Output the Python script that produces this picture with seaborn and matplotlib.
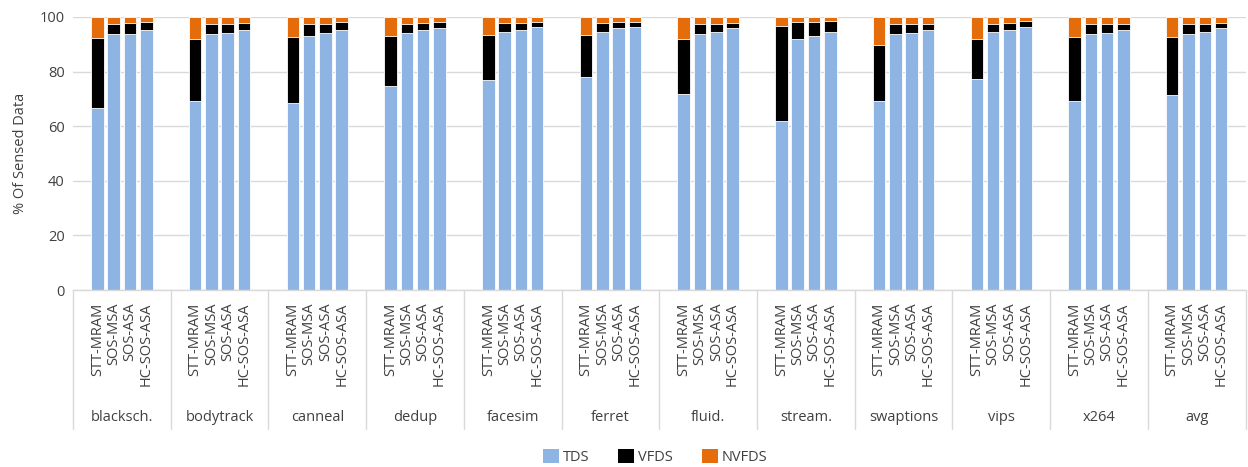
import numpy as np
import pandas as pd
import matplotlib
matplotlib.use("Agg")
import matplotlib.pyplot as plt
import matplotlib.transforms as mtransforms
from matplotlib.patches import Patch
import seaborn as sns

benchmarks = ["blacksch.", "bodytrack", "canneal", "dedup", "facesim", "ferret",
              "fluid.", "stream.", "swaptions", "vips", "x264", "avg"]
configs = ["STT-MRAM", "SOS-MSA", "SOS-ASA", "HC-SOS-ASA"]

# share of sensed data (%) per benchmark, one value per config
tds = [
    [66.5, 93.7, 93.9, 95.3],
    [69.2, 93.8, 94.2, 95.2],
    [68.5, 93.0, 94.2, 95.3],
    [74.7, 94.2, 95.2, 95.8],
    [76.9, 94.6, 95.2, 96.4],
    [77.9, 94.6, 95.8, 96.4],
    [71.7, 93.6, 94.6, 95.8],
    [61.8, 91.8, 93.0, 94.6],
    [69.2, 93.6, 94.2, 95.2],
    [77.3, 94.6, 95.2, 96.4],
    [69.2, 93.6, 94.2, 95.2],
    [71.4, 93.6, 94.6, 95.8],
]
vfds = [
    [25.9, 3.6, 3.9, 2.7],
    [22.6, 3.5, 3.1, 2.6],
    [24.0, 4.3, 3.2, 2.7],
    [18.3, 3.1, 2.6, 2.2],
    [16.6, 3.2, 2.6, 1.6],
    [15.6, 3.2, 2.2, 1.6],
    [20.1, 3.7, 2.7, 2.0],
    [35.0, 6.2, 5.0, 3.9],
    [20.5, 3.7, 3.1, 2.1],
    [14.5, 2.9, 2.6, 2.1],
    [23.3, 3.7, 3.3, 2.3],
    [21.1, 3.7, 2.9, 2.0],
]
nvfds = [
    [7.6, 2.7, 2.2, 2.0],
    [8.2, 2.7, 2.7, 2.2],
    [7.5, 2.7, 2.6, 2.0],
    [7.0, 2.7, 2.2, 2.0],
    [6.5, 2.2, 2.2, 2.0],
    [6.5, 2.2, 2.0, 2.0],
    [8.2, 2.7, 2.7, 2.2],
    [3.2, 2.0, 2.0, 1.5],
    [10.3, 2.7, 2.7, 2.7],
    [8.2, 2.5, 2.2, 1.5],
    [7.5, 2.7, 2.5, 2.5],
    [7.5, 2.7, 2.5, 2.2],
]

colors = {"TDS": "#8EB4E3", "VFDS": "#000000", "NVFDS": "#E46C0A"}
text_color = "#404040"

sns.set_theme(style="white")
plt.rcParams["font.family"] = ["Open Sans", "DejaVu Sans"]

# each benchmark occupies 6 slots; its four bars sit in the middle four
slots = 6
rows = []
for g, b in enumerate(benchmarks):
    for k, c in enumerate(configs):
        t, v, n = tds[g][k], vfds[g][k], nvfds[g][k]
        rows.append({"benchmark": b, "config": c, "pos": g * slots + 1.5 + k,
                     "tds": t, "tds_vfds": t + v, "total": t + v + n})
df = pd.DataFrame(rows)

fig = plt.figure(figsize=(12.48, 4.67), dpi=100)
ax = fig.add_axes([0.0585, 0.379, 0.9395, 0.5846])

bar_kw = dict(x="pos", native_scale=True, width=0.77, ax=ax,
              edgecolor="white", linewidth=0.6, errorbar=None)
sns.barplot(data=df, y="total", color=colors["NVFDS"], saturation=1, **bar_kw)
sns.barplot(data=df, y="tds_vfds", color=colors["VFDS"], saturation=1, **bar_kw)
sns.barplot(data=df, y="tds", color=colors["TDS"], saturation=1, **bar_kw)

ax.set_xlim(0, slots * len(benchmarks))
ax.set_ylim(0, 100)
ax.set_yticks(np.arange(0, 101, 20))
ax.yaxis.grid(True, color="#d9d9d9", linewidth=1)
ax.set_axisbelow(True)
for s in ["top", "right", "left"]:
    ax.spines[s].set_visible(False)
ax.spines["bottom"].set_color("#d9d9d9")
ax.spines["bottom"].set_linewidth(1)

ax.set_xticks(df["pos"])
ax.set_xticklabels(df["config"], rotation=90, fontsize=10.5, color=text_color,
                   va="top", ha="center")
ax.tick_params(axis="x", length=0, pad=9)
ax.tick_params(axis="y", length=0, labelsize=10.5, labelcolor=text_color, pad=6)
ax.set_xlabel("")
ax.set_ylabel("% Of Sensed Data", fontsize=10.5, color=text_color, labelpad=8)

trans = mtransforms.blended_transform_factory(ax.transData, ax.transAxes)
for g in range(len(benchmarks) + 1):
    ax.plot([g * slots, g * slots], [0, -0.51], transform=trans,
            color="#d9d9d9", linewidth=1, clip_on=False)
for g, b in enumerate(benchmarks):
    ax.text(g * slots + slots / 2, -0.468, b, transform=trans, ha="center",
            va="center", fontsize=10.5, color=text_color)

handles = [Patch(facecolor=colors[k], edgecolor="none", label=k)
           for k in ["TDS", "VFDS", "NVFDS"]]
leg = fig.legend(handles=handles, loc="center", bbox_to_anchor=(0.525, 0.022),
                 ncol=3, frameon=False, fontsize=10.5, handlelength=1.1,
                 handleheight=1.1, handletextpad=0.25, columnspacing=2.0)
for t in leg.get_texts():
    t.set_color(text_color)

fig.savefig("out.png", dpi=100)
